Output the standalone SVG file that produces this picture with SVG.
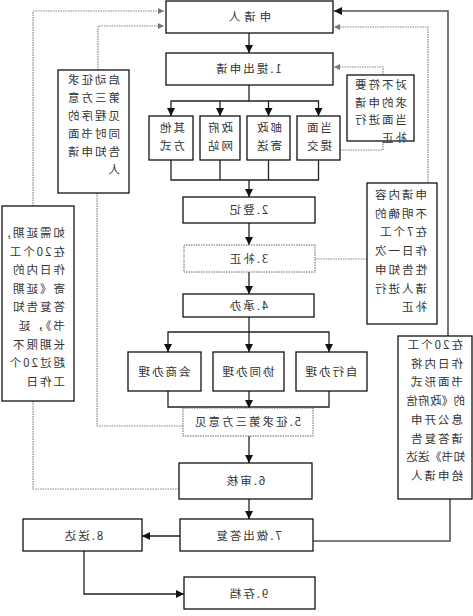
<svg xmlns="http://www.w3.org/2000/svg" width="473" height="616" viewBox="0 0 473 616">
<defs>
<marker id="ah" viewBox="0 0 10 10" refX="10" refY="5" markerWidth="8" markerHeight="8" markerUnits="userSpaceOnUse" orient="auto"><path d="M0,0 L10,5 L0,10 z" fill="#111"/></marker>
<marker id="ahg" viewBox="0 0 10 10" refX="10" refY="5" markerWidth="6" markerHeight="6" markerUnits="userSpaceOnUse" orient="auto"><path d="M0,0 L10,5 L0,10 z" fill="#777"/></marker>
<style>
.box{fill:#fff;stroke:#111;stroke-width:1.3}
.dbox{fill:#fff;stroke:#666;stroke-width:1;stroke-dasharray:1.5,1}
.t{font-family:"Noto Sans CJK SC","Liberation Sans",sans-serif;font-size:11.5px;fill:#333;letter-spacing:2px}
.c{text-anchor:middle}
.ln{fill:none;stroke:#222;stroke-width:1.3}
.dl{fill:none;stroke:#888;stroke-width:1.2;stroke-dasharray:1.5,1}
.gl{fill:none;stroke:#555;stroke-width:1.6}
</style>
</defs>
<rect width="473" height="616" fill="#fff"/>
<g transform="translate(473,0) scale(-1,1)">
<g id="connectors">
<path class="ln" d="M224,33 V53" marker-end="url(#ah)"/>
<path class="ln" d="M224,85 V101 H154.5 V116" marker-end="url(#ah)"/>
<path class="ln" d="M224,101 H302 V116" marker-end="url(#ah)"/>
<path class="ln" d="M204.5,101 V116" marker-end="url(#ah)"/>
<path class="ln" d="M253,101 V116" marker-end="url(#ah)"/>
<path class="ln" d="M154.5,160 V180 H302 V160 M204.5,160 V180 M253,160 V180"/>
<path class="ln" d="M224,180 V197" marker-end="url(#ah)"/>
<path class="ln" d="M224,223 V245" marker-end="url(#ah)"/>
<path class="ln" d="M224,272 V294" marker-end="url(#ah)"/>
<path class="ln" d="M224,317 V332 H144 V352" marker-end="url(#ah)"/>
<path class="ln" d="M224,332 H305 V352" marker-end="url(#ah)"/>
<path class="ln" d="M224,332 V352" marker-end="url(#ah)"/>
<path class="ln" d="M144,391 V407 H305 V391"/>
<path class="ln" d="M224,391 V408" marker-end="url(#ah)"/>
<path class="ln" d="M224,436 V463" marker-end="url(#ah)"/>
<path class="ln" d="M224,499 V519" marker-end="url(#ah)"/>
<path class="ln" d="M293,536 H331" marker-end="url(#ah)"/>
<path class="ln" d="M389,551 V594 H289" marker-end="url(#ah)"/>
<path class="dl" d="M440,206 V11 H309" marker-end="url(#ahg)"/>
<path class="dl" d="M440,401 V489 H294"/>
<path class="dl" d="M375,70 V26 H309" marker-end="url(#ahg)"/>
<path class="dl" d="M376,193 V426 H290"/>
<path class="dl" d="M90,75 V67 H139" marker-end="url(#ahg)"/>
<path class="dl" d="M90,141 V150 H133"/>
<path class="dl" d="M45,183 V27 H139" marker-end="url(#ahg)"/>
<path class="dl" d="M106,259 H158"/>
<path class="gl" d="M25,336 V11 H139" marker-end="url(#ah)"/>
<path class="gl" d="M23,499 V541 H160"/>
</g>
<g id="applicant"><rect class="box" x="140" y="1" width="167" height="32"/><text class="t c" x="225" y="21" style="letter-spacing:4px">申请人</text></g>
<g id="step1"><rect class="box" x="140" y="53" width="167" height="32"/><text class="t c" x="225" y="73">1.提出申请</text></g>
<g id="m1"><rect class="box" x="133" y="116" width="43" height="44"/><text class="t" x="141" y="132">当面<tspan x="141" dy="18">提交</tspan></text></g>
<g id="m2"><rect class="box" x="183" y="116" width="43" height="44"/><text class="t" x="191" y="132">邮政<tspan x="191" dy="18">寄送</tspan></text></g>
<g id="m3"><rect class="box" x="233" y="116" width="40" height="44"/><text class="t" x="240" y="132">政府<tspan x="240" dy="18">网站</tspan></text></g>
<g id="m4"><rect class="box" x="280" y="116" width="44" height="44"/><text class="t" x="288" y="132">其他<tspan x="288" dy="18">方式</tspan></text></g>
<g id="step2"><rect class="box" x="158" y="197" width="132" height="26"/><text class="t c" x="225" y="214">2.登记</text></g>
<g id="step3"><rect class="dbox" x="158" y="245" width="131" height="27"/><text class="t c" x="225" y="263">3.补正</text></g>
<g id="step4"><rect class="box" x="159" y="294" width="131" height="23"/><text class="t c" x="225" y="310">4.承办</text></g>
<g id="h1"><rect class="box" x="106" y="352" width="71" height="39"/><text class="t c" x="142.5" y="376">自行办理</text></g>
<g id="h2"><rect class="box" x="189" y="352" width="71" height="39"/><text class="t c" x="225.5" y="376">协同办理</text></g>
<g id="h3"><rect class="box" x="272" y="352" width="73" height="39"/><text class="t c" x="309.5" y="376">会商办理</text></g>
<g id="step5"><rect class="dbox" x="160" y="408" width="130" height="28"/><text class="t c" x="226" y="426">5.征求第三方意见</text></g>
<g id="step6"><rect class="box" x="161" y="463" width="133" height="36"/><text class="t c" x="228" y="485">6.审核</text></g>
<g id="step7"><rect class="box" x="160" y="519" width="133" height="32"/><text class="t c" x="225" y="540">7.做出答复</text></g>
<g id="step8"><rect class="box" x="331" y="519" width="119" height="32"/><text class="t c" x="390" y="540">8.送达</text></g>
<g id="step9"><rect class="box" x="158" y="577" width="131" height="32"/><text class="t c" x="225" y="598">9.存档</text></g>
<g id="note-extend"><rect class="box" x="399" y="206" width="72" height="195"/>
<text class="t" x="408" y="237">如需延期,<tspan x="408" dy="18.6">在20个工</tspan><tspan x="408" dy="18.6">作日内的</tspan><tspan x="408" dy="18.6">寄《延期</tspan><tspan x="408" dy="18.6">答复告知</tspan><tspan x="408" dy="18.6">书》，延</tspan><tspan x="408" dy="18.6">长期限不</tspan><tspan x="408" dy="18.6">超过20个</tspan><tspan x="408" dy="18.6">工作日</tspan></text></g>
<g id="note-third"><rect class="box" x="344" y="70" width="71" height="123"/>
<text class="t" x="353" y="84">启动征求<tspan x="353" dy="18">第三方意</tspan><tspan x="353" dy="18">见程序的</tspan><tspan x="353" dy="18">同时书面</tspan><tspan x="353" dy="18">告知申请</tspan><tspan x="353" dy="18">人</tspan></text></g>
<g id="note-face"><rect class="box" x="59" y="75" width="67" height="66"/>
<text class="t" x="66" y="89">对不符要<tspan x="66" dy="17.7">求的申请</tspan><tspan x="66" dy="17.7">当面进行</tspan><tspan x="66" dy="17.7">补正</tspan></text></g>
<g id="note-unclear"><rect class="box" x="36" y="183" width="70" height="141"/>
<text class="t" x="46" y="199">申请内容<tspan x="46" dy="18.7">不明确的</tspan><tspan x="46" dy="18.7">在7个工</tspan><tspan x="46" dy="18.7">作日一次</tspan><tspan x="46" dy="18.7">性告知申</tspan><tspan x="46" dy="18.7">请人进行</tspan><tspan x="46" dy="18.7">补正</tspan></text></g>
<g id="note-reply"><rect class="box" x="1" y="336" width="74" height="163"/>
<text class="t" x="10" y="349">在20个工<tspan x="10" dy="18.7">作日内将</tspan><tspan x="10" dy="18.7">书面形式</tspan><tspan x="8" dy="18.7" letter-spacing="0.3">的《政府信</tspan><tspan x="10" dy="18.7">息公开申</tspan><tspan x="10" dy="18.7">请答复告</tspan><tspan x="8" dy="18.7" letter-spacing="0.3">知书》送达</tspan><tspan x="10" dy="18.7">给申请人</tspan></text></g>
</g>
</svg>
